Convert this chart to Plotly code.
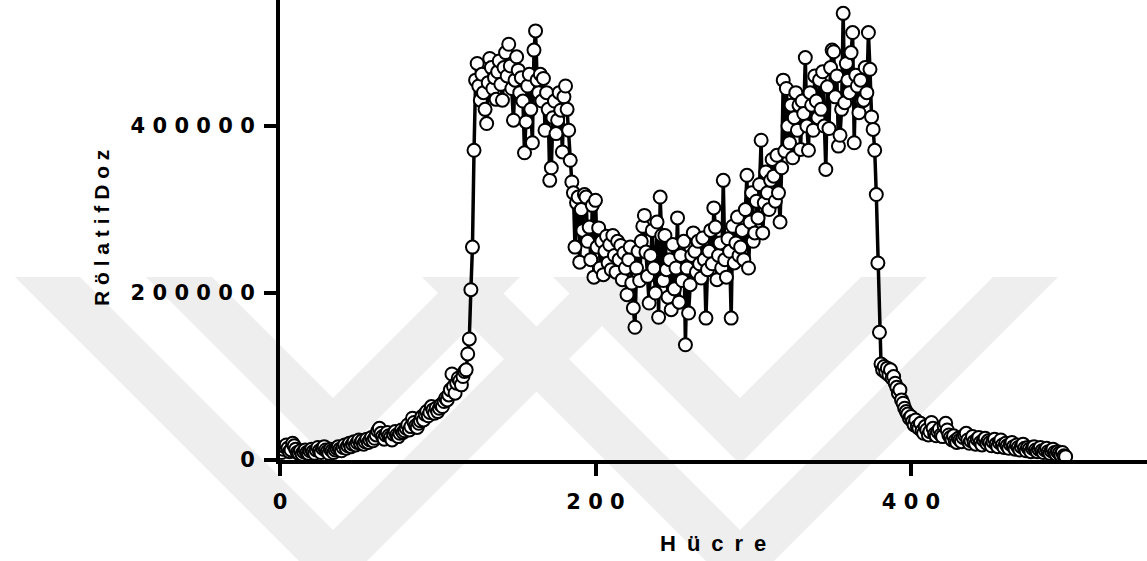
import plotly.graph_objects as go

# ---------------- data ----------------
dose = [
    11000, 9000, 13000, 16000, 18000, 14000, 10000, 12000, 20000, 17000,
    13000, 9000, 8000, 11000, 7000, 10000, 12000, 9000, 8000, 11000,
    13000, 10000, 8000, 12000, 15000, 11000, 9000, 14000, 16000, 12000,
    10000, 8000, 13000, 11000, 9000, 12000, 14000, 16000, 13000, 11000,
    15000, 18000, 14000, 17000, 20000, 16000, 19000, 22000, 18000, 21000,
    24000, 20000, 23000, 19000, 22000, 25000, 21000, 24000, 27000, 23000,
    26000, 30000, 35000, 38000, 32000, 28000, 25000, 30000, 33000, 29000,
    27000, 24000, 31000, 34000, 30000, 28000, 32000, 36000, 33000, 35000,
    38000, 42000, 36000, 40000, 50000, 45000, 41000, 39000, 44000, 47000,
    52000, 48000, 55000, 58000, 53000, 57000, 64000, 60000, 56000, 62000,
    58000, 62000, 66000, 64000, 70000, 74000, 72000, 78000, 84000, 103000,
    88000, 80000, 92000, 98000, 95000, 90000, 100000, 106000, 108000, 127000,
    145000, 204000, 255000, 371000,
    455000, 475000, 448000, 431000, 462000, 440000, 420000, 403000, 452000, 481000,
    470000, 445000, 458000, 432000, 465000, 478000, 450000, 431000, 470000, 488000,
    460000, 498000, 472000, 445000, 407000, 455000, 483000, 467000, 440000, 458000,
    430000, 368000, 405000, 448000, 462000, 420000, 380000, 491000, 514000, 455000,
    440000, 462000, 430000, 457000, 395000, 440000, 420000, 335000, 350000, 410000,
    430000, 391000, 407000, 440000, 419000, 369000, 435000, 448000, 420000, 395000,
    359000, 333000,
    320000, 255000, 308000, 315000, 237000, 300000, 275000, 318000, 315000, 262000,
    279000, 240000, 305000, 219000,
    311000, 255000, 278000, 230000, 262000, 222000, 250000, 268000, 236000, 258000,
    228000, 269000, 245000, 225000, 262000, 240000, 257000, 216000, 248000, 230000,
    198000, 240000, 255000, 212000, 182000, 159000, 230000, 250000, 215000, 262000,
    280000, 293000, 249000, 220000, 188000, 245000, 275000, 230000, 200000, 285000,
    171000, 315000, 269000, 215000, 269000, 228000, 195000, 240000, 180000, 258000,
    205000, 230000, 290000, 189000, 245000, 215000, 262000, 138000, 230000, 176000,
    210000, 245000, 272000, 250000, 225000, 262000, 235000, 218000, 266000, 240000,
    170000, 228000, 250000, 275000, 235000, 302000, 279000, 216000, 245000, 260000,
    230000, 335000, 240000, 219000, 265000, 250000, 170000, 280000, 236000, 260000,
    291000, 245000, 255000, 275000, 240000, 300000, 341000, 230000, 285000, 320000,
    262000,
    272000, 310000, 290000, 330000, 383000, 272000, 308000, 345000, 320000, 300000,
    335000, 360000, 340000, 310000, 365000, 320000, 285000, 350000, 455000, 370000,
    445000, 400000, 380000, 425000, 362000,
    410000, 440000, 395000, 425000, 372000, 430000, 415000, 482000, 400000, 371000,
    440000, 425000, 395000, 460000, 430000, 410000, 455000, 420000, 465000, 400000,
    348000, 447000, 397000, 470000, 491000, 489000, 435000, 460000, 376000, 389000,
    420000, 535000, 428000, 475000, 455000, 440000, 488000, 512000, 380000, 461000,
    448000, 416000, 455000, 430000, 431000, 470000, 440000, 512000, 468000, 411000,
    396000, 371000, 318000, 236000,
    153000, 115000, 108000, 112000, 105000, 110000, 102000, 108000, 98000, 100000,
    92000, 87000, 80000, 84000, 72000, 68000, 62000, 58000, 55000, 50000,
    52000, 46000, 42000, 48000, 40000, 38000, 44000, 35000, 32000, 40000,
    36000, 30000, 34000, 45000, 38000, 31000, 29000, 34000, 37000, 30000,
    28000, 41000, 44000, 36000, 30000, 27000, 24000, 29000, 23000, 21000,
    26000, 24000, 22000, 27000, 30000, 32000, 24000, 20000, 23000, 28000,
    22000, 19000, 25000, 27000, 21000, 18000, 24000, 26000, 20000, 23000,
    21000, 17000, 22000, 25000, 19000, 16000, 21000, 24000, 18000, 15000,
    20000, 17000, 14000, 19000, 21000, 16000, 13000, 18000, 15000, 12000,
    16000, 19000, 14000, 11000, 15000, 13000, 10000, 14000, 16000, 12000,
    10000, 13000, 15000, 11000, 9000, 12000, 14000, 10000, 8000, 11000,
    13000, 9000, 7000, 10000, 8000, 6000, 9000, 5000, 4000,
]
cell = list(range(len(dose)))  # cell index along the profile

x_tick_vals = [0, 200, 400]
x_tick_text = ["0", "2 0 0", "4 0 0"]
y_tick_vals = [0, 200000, 400000]
y_tick_text = ["0", "2 0 0 0 0 0", "4 0 0 0 0 0"]
x_title = "H\u2002ü\u2002c\u2002r\u2002e"
y_title = "R ö l a t i f D o z"

# ---------------- figure ----------------
W, H = 1147, 561
L, R, T, B = 280, 0, 0, 101
PW, PH = W - L - R, H - T - B


def pp(px, py):
    """pixel -> paper coordinates (for decoration only)"""
    return (px - L) / PW, (H - B - py) / PH


def poly(points):
    pts = [pp(x, y) for x, y in points]
    return "M " + " L ".join(f"{a:.5f},{b:.5f}" for a, b in pts) + " Z"


# faint background watermark (two double chevrons)
wm = []
TOP = 277
for c in (333, 740):
    for half_in, w in ((121, 66), (253, 65)):
        ie = half_in
        oe = half_in + w
        wm.append([(c - oe, TOP), (c - ie, TOP), (c, TOP + ie), (c + ie, TOP),
                   (c + oe, TOP), (c, TOP + oe)])

shapes = [dict(type="path", path=poly(p), xref="paper", yref="paper",
               fillcolor="#eeeeee", line=dict(width=0), layer="below")
          for p in wm]

fig = go.Figure()
fig.add_trace(go.Scatter(
    x=cell, y=dose, mode="lines+markers",
    line=dict(color="black", width=3.5),
    marker=dict(symbol="circle", size=13, color="white",
                line=dict(color="black", width=2)),
    showlegend=False, hoverinfo="x+y",
))

tickfont = dict(family="DejaVu Sans", size=21, color="black", weight="bold")

fig.update_layout(
    width=W, height=H,
    margin=dict(l=L, r=R, t=T, b=B, pad=0),
    paper_bgcolor="white", plot_bgcolor="rgba(0,0,0,0)",
    shapes=shapes,
    xaxis=dict(range=[0, 549.6], showgrid=False, zeroline=False,
               showline=True, linecolor="black", linewidth=4,
               ticks="outside", ticklen=12, tickwidth=4, tickcolor="black",
               tickvals=x_tick_vals, ticktext=x_tick_text, tickfont=tickfont,
               ticklabelstandoff=8),
    yaxis=dict(range=[0, 551000], showgrid=False, zeroline=False,
               showline=True, linecolor="black", linewidth=4,
               ticks="outside", ticklen=12, tickwidth=4, tickcolor="black",
               tickvals=y_tick_vals, ticktext=y_tick_text, tickfont=tickfont,
               ticklabelstandoff=5),
    annotations=[
        dict(text=x_title, xref="paper", yref="paper",
             x=pp(713, 543)[0], y=pp(713, 543)[1], showarrow=False,
             xanchor="center", yanchor="middle",
             font=dict(family="Liberation Sans", size=22, color="black", weight="bold")),
        dict(text=y_title, xref="paper", yref="paper",
             x=pp(101, 228)[0], y=pp(101, 228)[1], showarrow=False, textangle=-90,
             xanchor="center", yanchor="middle",
             font=dict(family="Liberation Sans", size=21, color="black", weight="bold")),
    ],
)

fig.write_html("out.html")
